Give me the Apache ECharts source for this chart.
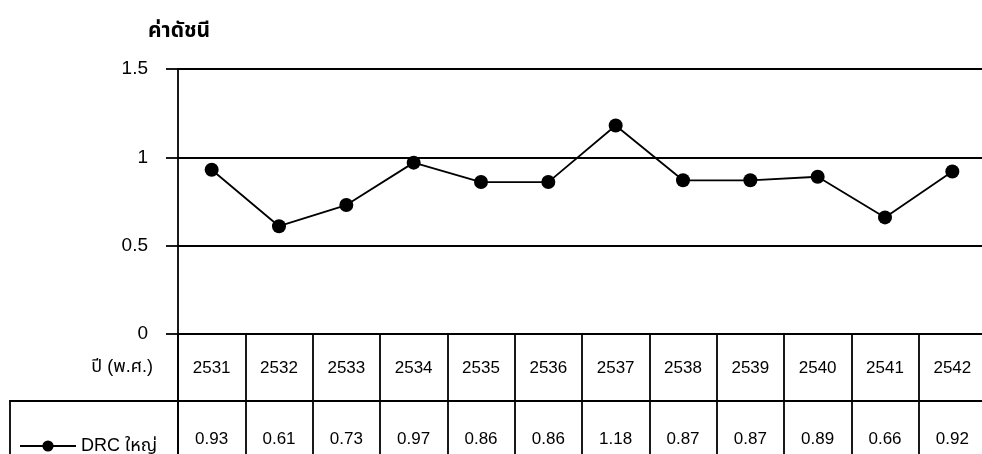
<!DOCTYPE html>
<html><head><meta charset="utf-8">
<script src="https://cdn.jsdelivr.net/npm/echarts@6/dist/echarts.min.js"></script>
<style>html,body{margin:0;padding:0;background:#fff}#c{width:982px;height:454px}</style>
</head><body><div id="c"></div>
<script>
const years = ['2531','2532','2533','2534','2535','2536','2537','2538','2539','2540','2541','2542'];
const drcValues = [0.93,0.61,0.73,0.97,0.86,0.86,1.18,0.87,0.87,0.89,0.66,0.92];
const yTicks = [0, 0.5, 1, 1.5];
const seriesName = 'DRC ใหญ่';
const yTitle = 'ค่าดัชนี';
const rowTitle = 'ปี (พ.ศ.)';

const FONT = '"Liberation Sans", Arial, "Noto Sans Thai", "Noto Sans", sans-serif';
const chart = echarts.init(document.getElementById('c'), null, {renderer:'canvas'});
const blk = '#000';
const LW = 1.8;
const GL = 178, GW = 808;
chart.setOption({
  animation:false,
  backgroundColor:'#fff',
  textStyle:{fontFamily:FONT},
  title:{text:yTitle,left:143,top:16,textStyle:{fontSize:21,fontWeight:'bold',color:blk,fontFamily:FONT}},
  legend:{left:14,top:432,itemWidth:56,itemHeight:14,itemGap:8,
    textStyle:{fontSize:18,color:blk,fontFamily:FONT},data:[seriesName]},
  grid:[
    {left:GL,width:GW,top:69,height:265,outerBoundsMode:'none',containLabel:false},
    {left:GL,width:GW,top:334,height:67,outerBoundsMode:'none',containLabel:false},
    {left:GL,width:GW,top:401,height:100,outerBoundsMode:'none',containLabel:false},
    {left:10,top:401,width:GL-10,height:100,outerBoundsMode:'none',containLabel:false}
  ],
  xAxis:[
    {gridIndex:0,type:'category',data:years,boundaryGap:true,axisLine:{show:false},axisTick:{show:false},axisLabel:{show:false}},
    {gridIndex:1,type:'category',data:years,boundaryGap:true,position:'bottom',
      axisLine:{show:true,onZero:false,lineStyle:{color:blk,width:LW}},axisTick:{show:false},
      splitLine:{show:true,interval:0,lineStyle:{color:blk,width:LW}},
      axisLabel:{inside:true,margin:33,verticalAlign:'middle',interval:0,fontSize:17,color:blk,fontFamily:FONT}},
    {gridIndex:2,type:'category',data:years,boundaryGap:true,position:'top',
      axisLine:{show:false,onZero:false},axisTick:{show:false},
      splitLine:{show:true,interval:0,lineStyle:{color:blk,width:LW}},
      axisLabel:{inside:true,margin:38,verticalAlign:'middle',interval:0,fontSize:17,color:blk,fontFamily:FONT,
        formatter:(v,i)=>drcValues[i].toFixed(2)}},
    {gridIndex:3,type:'value',min:0,max:1,position:'top',axisLine:{show:true,onZero:false,lineStyle:{color:blk,width:LW}},
      axisTick:{show:false},axisLabel:{show:false},splitLine:{show:false}}
  ],
  yAxis:[
    {gridIndex:0,type:'value',min:yTicks[0],max:yTicks[yTicks.length-1],interval:0.5,
      axisLine:{show:true,onZero:false,lineStyle:{color:blk,width:LW}},
      axisTick:{show:true,length:12,lineStyle:{color:blk,width:LW}},
      splitLine:{show:true,lineStyle:{color:blk,width:LW}},
      axisLabel:{margin:30,fontSize:19,color:blk,fontFamily:FONT,formatter:v=>String(v)}},
    {gridIndex:1,type:'category',data:[rowTitle],
      axisLine:{show:true,onZero:false,lineStyle:{color:blk,width:LW}},axisTick:{show:false},
      axisLabel:{margin:25,fontSize:18,color:blk,fontFamily:FONT}},
    {gridIndex:2,type:'value',min:0,max:1,axisLine:{show:true,onZero:false,lineStyle:{color:blk,width:LW}},
      axisTick:{show:false},axisLabel:{show:false},splitLine:{show:false}},
    {gridIndex:3,type:'value',min:0,max:1,axisLine:{show:true,onZero:false,lineStyle:{color:blk,width:LW}},
      axisTick:{show:false},axisLabel:{show:false},splitLine:{show:false}}
  ],
  series:[{
    name:seriesName,type:'line',xAxisIndex:0,yAxisIndex:0,data:drcValues,
    symbol:'circle',symbolSize:14,
    lineStyle:{color:blk,width:LW},itemStyle:{color:blk}
  }]
});
</script></body></html>
